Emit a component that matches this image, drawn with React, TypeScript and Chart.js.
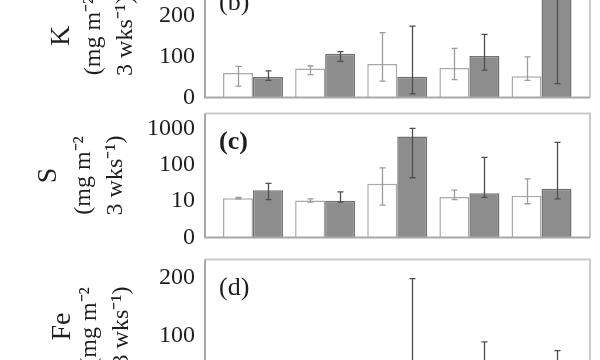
import React, { useEffect, useRef } from 'react';
import { Chart, registerables } from 'chart.js';

Chart.register(...registerables);

// ---- data ----
const groups = [1, 2, 3, 4, 5];

// Panel (b) K
const kWhite = [60, 71, 82, 72, 52];
const kWhiteLo = [28, 56, 40, 44, 42];
const kWhiteHi = [76, 77, 158, 120, 99];
const kGray = [50, 107, 51, 101, 280];
const kGrayLo = [42, 88, 9, 67, 34];
const kGrayHi = [65, 112, 174, 154, 520];
const kTicks = [0, 100, 200, 300];
const kTickLabels = ['0', '100', '200', '300'];

// Panel (c) S (log axis)
const sWhite = [12, 10.5, 30, 13, 14];
const sWhiteLo = [11.5, 9.5, 7.8, 11, 8.5];
const sWhiteHi = [12.6, 11.5, 82, 20, 41];
const sGray = [20, 10.2, 600, 16.5, 22];
const sGrayLo = [11, 9.4, 44, 12.7, 11.5];
const sGrayHi = [31, 18, 1000, 160, 410];
const sTicks = [1, 10, 100, 1000];
const sTickLabels = ['0', '10', '100', '1000'];

// Panel (d) Fe
const feWhite = [22, 15, 35, 20, 18];
const feWhiteLo = [14, 10, 20, 12, 10];
const feWhiteHi = [30, 20, 50, 28, 26];
const feGray = [30, 20, 40, 35, 30];
const feGrayLo = [18, 12, 5, 5, 5];
const feGrayHi = [45, 35, 198, 89, 74];
const feTicks = [0, 100, 200];
const feTickLabels = ['0', '100', '200'];

const unitLines = ['(mg m\u207B\u00B2', '3 wks\u207B\u00B9)'];

const SERIF = "'Liberation Serif', 'Times New Roman', Times, serif";
const PAD = 20;
const AXIS_LEFT = 205;

type PanelDef = {
  areaTop: number;
  areaBottom: number;
  label: string;
  labelBold: boolean;
  name: string;
  nameCenter: number;
  unitCenter: number;
  type: 'linear' | 'logarithmic';
  min: number;
  max: number;
  ticks: number[];
  tickLabels: string[];
  white: number[];
  whiteLo: number[];
  whiteHi: number[];
  gray: number[];
  grayLo: number[];
  grayHi: number[];
};

const panels: PanelDef[] = [
  {
    areaTop: -30, areaBottom: 102, label: '(b)', labelBold: false,
    name: 'K', nameCenter: 62, unitCenter: 94,
    type: 'linear', min: 0, max: 300, ticks: kTicks, tickLabels: kTickLabels,
    white: kWhite, whiteLo: kWhiteLo, whiteHi: kWhiteHi,
    gray: kGray, grayLo: kGrayLo, grayHi: kGrayHi,
  },
  {
    areaTop: 109, areaBottom: 242, label: '(c)', labelBold: true,
    name: 'S', nameCenter: 49, unitCenter: 84,
    type: 'logarithmic', min: 1, max: 2570, ticks: sTicks, tickLabels: sTickLabels,
    white: sWhite, whiteLo: sWhiteLo, whiteHi: sWhiteHi,
    gray: sGray, grayLo: sGrayLo, grayHi: sGrayHi,
  },
  {
    areaTop: 255, areaBottom: 398, label: '(d)', labelBold: false,
    name: 'Fe', nameCenter: 63, unitCenter: 90,
    type: 'linear', min: 0, max: 231, ticks: feTicks, tickLabels: feTickLabels,
    white: feWhite, whiteLo: feWhiteLo, whiteHi: feWhiteHi,
    gray: feGray, grayLo: feGrayLo, grayHi: feGrayHi,
  },
];

const decorPlugin = {
  id: 'panelDecor',
  afterDatasetsDraw(chart: any, _args: any, opts: any) {
    const { ctx, chartArea: a } = chart;
    const yScale = chart.scales.y;
    ctx.save();
    // frame
    ctx.lineWidth = 2;
    ctx.strokeStyle = '#cacaca';
    ctx.beginPath();
    ctx.moveTo(a.left, a.top);
    ctx.lineTo(a.right, a.top);
    ctx.lineTo(a.right, a.bottom);
    ctx.stroke();
    ctx.strokeStyle = '#a8a8a8';
    ctx.beginPath();
    ctx.moveTo(a.left, a.top);
    ctx.lineTo(a.left, a.bottom);
    ctx.lineTo(a.right, a.bottom);
    ctx.stroke();
    // error bars
    chart.data.datasets.forEach((ds: any, i: number) => {
      const meta = chart.getDatasetMeta(i);
      ctx.strokeStyle = ds.errColor;
      ctx.lineWidth = 1.3;
      meta.data.forEach((bar: any, j: number) => {
        const x = Math.round(bar.x) + 0.5;
        const yHi = yScale.getPixelForValue(ds.errHigh[j]);
        const yLo = yScale.getPixelForValue(ds.errLow[j]);
        ctx.beginPath();
        ctx.moveTo(x, yHi);
        ctx.lineTo(x, yLo);
        ctx.moveTo(x - 3, yHi);
        ctx.lineTo(x + 3, yHi);
        ctx.moveTo(x - 3, yLo);
        ctx.lineTo(x + 3, yLo);
        ctx.stroke();
      });
    });
    // panel label
    ctx.fillStyle = '#1e1e1e';
    ctx.font = `${opts.bold ? 'bold ' : ''}26px ${SERIF}`;
    ctx.textAlign = 'left';
    ctx.textBaseline = 'middle';
    ctx.fillText(opts.label, a.left + 14, a.top + 29);
    ctx.restore();
  },
};

function Panel({ def }: { def: PanelDef }) {
  const ref = useRef<HTMLCanvasElement>(null);
  const canvasTop = def.areaTop - PAD;
  const canvasHeight = def.areaBottom - def.areaTop + 2 * PAD;
  const nameLH = 35;
  const unitLH = 32;
  const nameAxisWidth = def.unitCenter - unitLH / 2;

  useEffect(() => {
    if (!ref.current) return;
    const chart = new Chart(ref.current, {
      type: 'bar',
      data: {
        datasets: [
          {
            label: 'white',
            data: groups.map((g, i) => ({ x: g, y: def.white[i] })),
            backgroundColor: '#ffffff',
            borderColor: '#a9a9a9',
            borderWidth: 1.5,
            errLow: def.whiteLo,
            errHigh: def.whiteHi,
            errColor: '#9c9c9c',
          } as any,
          {
            label: 'gray',
            data: groups.map((g, i) => ({ x: g, y: def.gray[i] })),
            backgroundColor: '#8d8d8d',
            borderColor: '#727272',
            borderWidth: 1.5,
            errLow: def.grayLo,
            errHigh: def.grayHi,
            errColor: '#4e4e4e',
          } as any,
        ],
      },
      options: {
        animation: false,
        responsive: false,
        devicePixelRatio: 1,
        layout: { padding: { top: PAD, bottom: PAD, left: 0, right: 10 } },
        datasets: { bar: { categoryPercentage: 0.832, barPercentage: 1 } } as any,
        plugins: {
          legend: { display: false },
          tooltip: { enabled: false },
          panelDecor: { label: def.label, bold: def.labelBold },
        } as any,
        scales: {
          x: {
            type: 'linear',
            min: 0.3345,
            max: 5.672,
            offset: false,
            display: false,
          },
          y: {
            type: def.type,
            position: 'left',
            weight: 0,
            min: def.min,
            max: def.max,
            grid: { display: false, drawTicks: false },
            border: { display: false },
            afterBuildTicks: (scale: any) => {
              scale.ticks = def.ticks.map((v) => ({ value: v }));
            },
            afterFit: (scale: any) => {
              scale.width = AXIS_LEFT - nameAxisWidth;
            },
            ticks: {
              padding: 10,
              color: '#1e1e1e',
              font: { family: SERIF, size: 24 },
              callback: (value: any) => {
                const k = def.ticks.indexOf(Number(value));
                return k >= 0 ? def.tickLabels[k] : '';
              },
            },
            title: {
              display: true,
              text: unitLines,
              color: '#1e1e1e',
              font: { family: SERIF, size: 24, lineHeight: unitLH / 24 },
              padding: { top: 0, bottom: 0 },
            },
          } as any,
          yName: {
            type: 'linear',
            position: 'left',
            weight: 1,
            grid: { display: false, drawTicks: false },
            border: { display: false },
            ticks: { display: false },
            afterFit: (scale: any) => {
              scale.width = nameAxisWidth;
            },
            title: {
              display: true,
              text: def.name,
              color: '#1e1e1e',
              font: { family: SERIF, size: 28, lineHeight: nameLH / 28 },
              padding: { top: def.nameCenter - nameLH / 2, bottom: 0 },
            },
          } as any,
        },
      },
      plugins: [decorPlugin as any],
    });
    return () => {
      chart.destroy();
    };
  }, [def]);

  return (
    <canvas
      ref={ref}
      width={600}
      height={canvasHeight}
      style={{ position: 'absolute', left: 0, top: canvasTop, width: 600, height: canvasHeight }}
    />
  );
}

export default function App() {
  return (
    <div
      style={{
        position: 'fixed',
        left: 0,
        top: 0,
        width: 600,
        height: 360,
        overflow: 'hidden',
        background: '#ffffff',
      }}
    >
      {panels.map((p) => (
        <Panel key={p.label} def={p} />
      ))}
    </div>
  );
}
